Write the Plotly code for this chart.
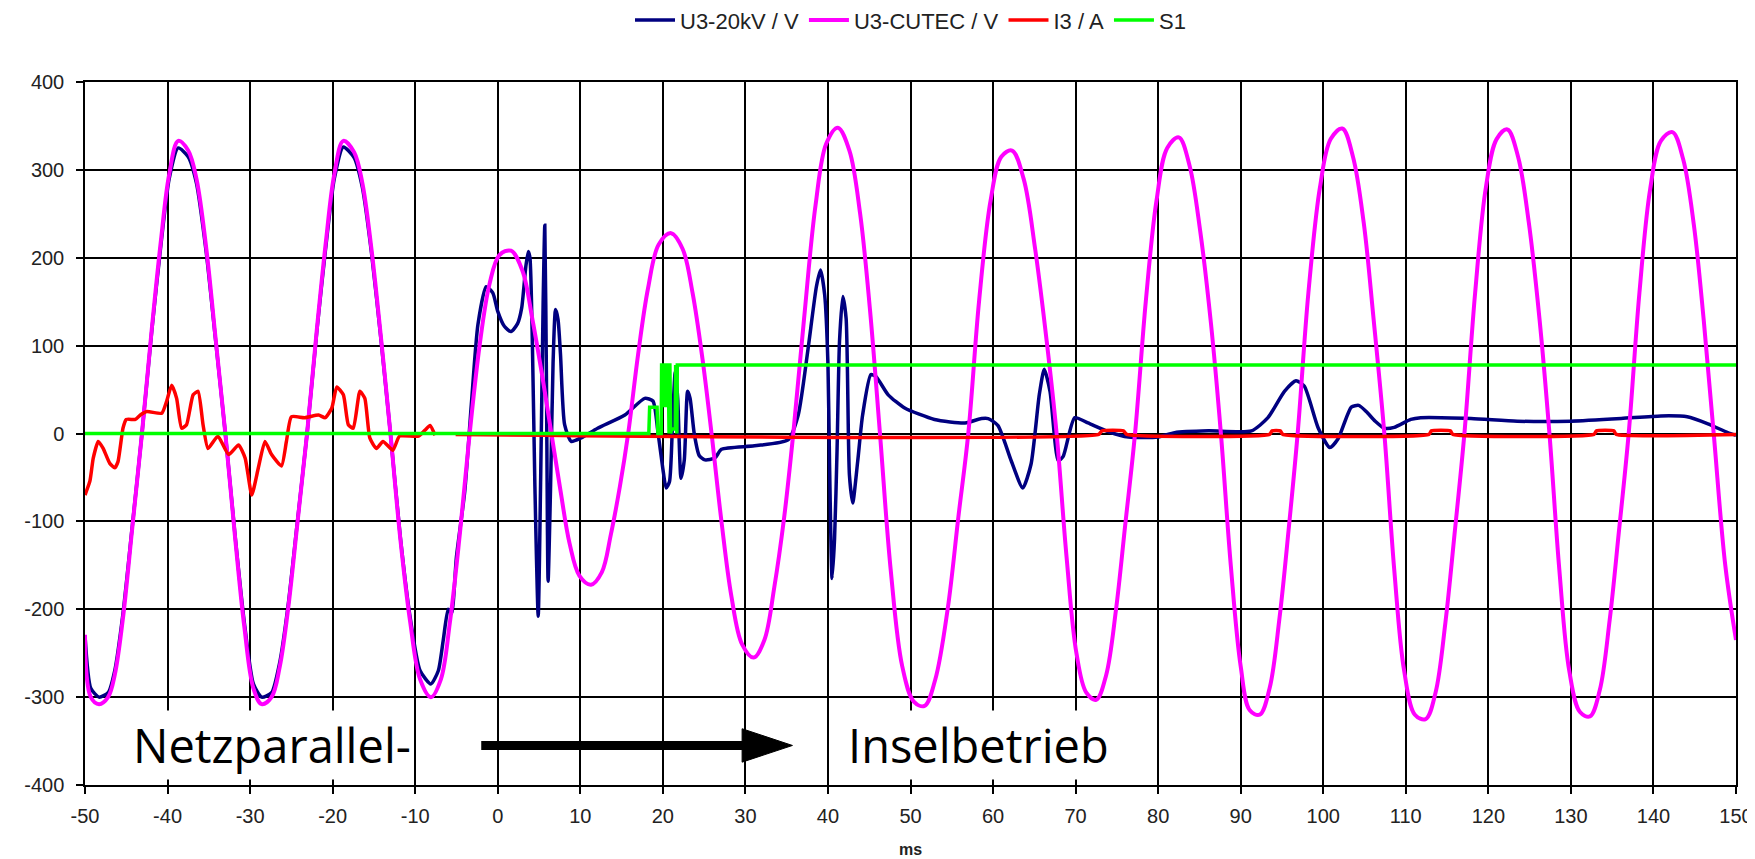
import plotly.graph_objects as go

# ---------------- data ----------------
cutec_t = [-50, -49.3, -48.3, -47.2, -46.4, -45.4, -44.3, -43.1, -41.9, -40.8, -39.8, -38.7, -37.5, -36.5,
           -35.3, -34.2, -33.0, -31.8, -30.7, -29.6, -28.6, -27.4, -26.4, -25.4, -24.3, -23.1, -21.9, -20.8,
           -19.8, -18.7, -17.4, -16.4, -15.3, -14.1, -13.0, -11.8, -10.6, -9.4, -8.1, -6.9, -5.8, -4.6, -3.4,
           -2.2, -1.0, 0.2, 1.6, 3.0, 4.2, 5.4, 6.5, 7.6, 8.7, 9.9, 11.3, 12.6, 13.7, 14.8, 15.8, 17.0, 18.2,
           19.5, 21.0, 22.4, 23.6, 24.8, 25.9, 27.1, 28.3, 29.6, 31.0, 32.3, 33.5, 34.7, 35.8, 37.1, 38.5,
           39.8, 41.2, 42.6, 43.9, 45.1, 46.3, 47.6, 49.0, 50.4, 51.7, 53.0, 54.5, 55.8, 57.0, 58.3, 59.7,
           61.0, 62.3, 63.7, 65.1, 66.5, 67.7, 68.9, 70.1, 71.3, 72.5, 73.7, 74.9, 76.0, 77.2, 78.5, 79.8,
           81.1, 82.5, 83.8, 85.1, 86.4, 87.6, 88.8, 90.0, 91.1, 92.3, 93.5, 94.7, 95.8, 96.9, 98.2, 99.6,
           100.9, 102.3, 103.6, 104.9, 106.1, 107.4, 108.6, 109.8, 111.1, 112.4, 113.6, 114.8, 115.9, 117.1,
           118.4, 119.7, 121.0, 122.3, 123.6, 124.9, 126.2, 127.4, 128.6, 129.8, 131.1, 132.3, 133.5, 134.7,
           135.8, 137.0, 138.3, 139.6, 140.9, 142.3, 143.6, 144.9, 146.1, 147.3, 148.7, 150.0]
cutec_v = [-229, -300, -308, -300, -275, -210, -110, 0, 120, 220, 295, 333, 322, 290,
           210, 110, 0, -120, -220, -290, -308, -300, -265, -200, -105, 0, 120, 220,
           295, 333, 320, 285, 210, 105, 0, -120, -215, -280, -300, -280, -215, -115, 0,
           100, 170, 203, 208, 185, 130, 65, 0, -65, -125, -162, -172, -158, -115, -60, 0, 90, 165,
           215, 228, 210, 160, 85, 0, -100, -185, -240, -255, -235, -175, -95, 0, 130, 260,
           330, 348, 322, 250, 140, 0, -155, -265, -305, -310, -280, -200, -95, 0, 150, 265,
           315, 322, 290, 210, 105, 0, -140, -250, -295, -303, -275, -200, -105, 0, 150, 265,
           325, 337, 305, 230, 125, 0, -150, -265, -315, -320, -290, -210, -110, 0, 160, 280,
           335, 347, 315, 240, 130, 0, -155, -270, -320, -325, -295, -215, -115, 0,
           160, 280, 335, 346, 315, 240, 130, 0, -155, -270, -317, -322, -292, -212,
           -113, 0, 160, 278, 333, 343, 312, 237, 128, 0, -150, -235]

kv_t = [-50, -49.3, -48.3, -47.2, -46.4, -45.4, -44.3, -43.1, -41.9, -40.8, -39.8, -38.7, -37.5, -36.5,
        -35.3, -34.2, -33.0, -31.8, -30.7, -29.6, -28.6, -27.4, -26.4, -25.4, -24.3, -23.1, -21.9, -20.8,
        -19.8, -18.7, -17.4, -16.4, -15.3, -14.1, -13.0, -11.8, -10.6, -9.4, -8.1, -7.2, -6.6, -6.0, -5.6,
        -5.0, -4.0, -3.2, -2.4, -1.4, -0.6, 0.0, 0.8, 1.6, 2.4, 2.9, 3.4, 3.7, 3.9, 4.2, 4.5, 4.9, 5.2,
        5.5, 5.7, 5.9, 6.1, 6.4, 6.7, 7.0, 7.3, 7.6, 8.1, 8.9, 10.1, 12.1, 15.4, 17.8, 18.8, 19.4, 20.0,
        20.4, 20.8, 21.2, 21.5, 21.8, 22.2, 22.6, 23.0, 23.3, 23.8, 24.4, 25.1, 26.3, 27.1, 31.1, 35.2,
        36.4, 37.6, 38.6, 39.1, 39.6, 40.0, 40.2, 40.5, 40.8, 41.1, 41.4, 41.8, 42.2, 42.6, 43.0, 43.6,
        44.2, 45.2, 45.8, 47.3, 49.3, 52.9, 56.6, 58.6, 59.4, 60.6, 62.2, 63.6, 64.6, 65.6, 66.2, 66.9,
        67.9, 68.5, 69.9, 71.5, 74.0, 76.4, 80.0, 82.0, 86.1, 91.3, 93.3, 95.3, 96.7, 97.7, 99.4, 100.8,
        101.8, 103.4, 104.3, 105.2, 106.3, 107.4, 108.6, 110.6, 111.8, 117.9, 123.5, 130.0, 136.1, 140.9,
        144.1, 146.6, 149.0, 150.0]
kv_v = [-230, -290, -300, -295, -270, -205, -108, 0, 118, 215, 290, 325, 315, 285,
        205, 108, 0, -118, -215, -285, -300, -295, -260, -196, -103, 0, 118, 215,
        290, 326, 314, 280, 206, 103, 0, -118, -210, -270, -285, -270, -235, -200, -205,
        -140, -66, 33, 124, 167, 160, 139, 122, 116, 125, 143, 190, 207, 200, 100, -60, -208, -50,
        150, 237, 60, -168, -60, 80, 141, 130, 90, 10, -9, -5, 6, 21, 40, 37, 2, -40,
        -62, -55, 20, 70, 40, -51, -30, 48, 40, 0, -25, -30, -28, -18, -14, -7,
        21, 97, 167, 186, 158, 79, -38, -165, -120, -20, 105, 156, 131, -47, -79, -32,
        21, 67, 65, 44, 29, 16, 12, 17, 17, 9, -31, -62, -35, 44, 73, 48,
        -31, -26, 18, 12, 2, -4, -4, 1, 3, 3, 18, 48, 60, 54, 6, -16,
        -6, 30, 32, 25, 14, 6, 7, 16, 18, 17, 14, 14, 17, 20,
        19, 11, 1, -2]

i3_t = [-50, -49.4, -49.0, -48.4, -47.8, -47.0, -46.4, -46.0, -45.4, -45.0, -43.9, -43.3, -42.5, -40.7,
        -40.1, -39.5, -38.9, -38.3, -37.7, -36.9, -36.3, -35.7, -35.1, -33.9, -32.6, -31.4, -30.6, -29.8,
        -29.0, -28.2, -27.4, -26.2, -25.6, -25.0, -23.4, -21.7, -20.9, -20.1, -19.5, -18.7, -18.1, -17.5,
        -16.7, -16.1, -15.5, -14.7, -13.9, -12.7, -11.9, -9.6, -8.8, -8.2, -7.6, None,
        -5.1, 72.8, 73.2, 75.8, 76.2, 93.5, 93.8, 94.8, 95.1, 112.8, 113.1, 115.4, 115.7,
        132.8, 133.1, 135.2, 135.5, 150]
i3_v = [-70, -54, -28, -9, -17, -34, -39, -32, 6, 16, 16, 21, 25, 23,
        37, 55, 40, 6, 10, 44, 48, 10, -17, -3, -24, -13, -28, -70,
        -39, -9, -24, -37, -9, 19, 18, 21, 18, 29, 53, 44, 10, 6,
        48, 40, -5, -17, -9, -19, -3, -3, 4, 9, -2, None,
        -1, -1, 3, 3, -1, -1, 3, 3, -1, -1, 3, 3, -1,
        -1, 3, 3, -1, -1]

s1_t = [-50, 18.3, 18.4, 19.3, 19.4, 19.8, 19.85, 19.95, 20.05, 20.15, 20.25, 20.35, 20.45, 20.55,
        20.65, 20.75, 20.85, 20.95, 21.05, 21.5, 21.55, 21.6, 21.7, 21.75, 150]
s1_v = [0, 0, 30, 30, 0, 0, 80, 30, 80, 30, 80, 30, 80, 30,
        80, 0, 80, 0, 5, 5, 78, 0, 0, 78, 78]

x_ticks = list(range(-50, 151, 10))
y_ticks = list(range(-400, 401, 100))

# annotation text / arrow (decoration, in data units)
label_left = "Netzparallel-"
label_right = "Inselbetrieb"
label_y = -355
arrow_from, arrow_to = -2.0, 35.7

# ---------------- figure ----------------
fig = go.Figure()
fig.add_trace(go.Scatter(x=kv_t, y=kv_v, mode="lines", name="U3-20kV / V",
                         line=dict(color="#000080", width=3.5, shape="spline", smoothing=0.6)))
fig.add_trace(go.Scatter(x=cutec_t, y=cutec_v, mode="lines", name="U3-CUTEC / V",
                         line=dict(color="#FF00FF", width=4, shape="spline", smoothing=1.0)))
fig.add_trace(go.Scatter(x=i3_t, y=i3_v, mode="lines", name="I3 / A",
                         line=dict(color="#FF0000", width=3.5, shape="spline", smoothing=0.5),
                         connectgaps=False))
fig.add_trace(go.Scatter(x=s1_t, y=s1_v, mode="lines", name="S1",
                         line=dict(color="#00FF00", width=3.5)))

axis_common = dict(showgrid=True, gridcolor="black", gridwidth=1.5, showline=True, linecolor="black",
                   linewidth=1.5, mirror=True, ticks="outside", ticklen=7, tickcolor="black",
                   tickwidth=1.5, zeroline=False,
                   tickfont=dict(family="Liberation Sans, Arial, sans-serif", size=20, color="#222"))

fig.update_layout(
    width=1755, height=859,
    margin=dict(l=77, r=27, t=74, b=82, autoexpand=False),
    paper_bgcolor="white", plot_bgcolor="white",
    showlegend=True,
    legend=dict(orientation="h", x=0.5, xanchor="center", y=1.088, yanchor="middle",
                font=dict(family="Liberation Sans, Arial, sans-serif", size=22, color="#222"),
                bgcolor="rgba(0,0,0,0)", itemwidth=40, tracegroupgap=0),
    xaxis=dict(range=[-50, 150], tickvals=x_ticks, ticktext=[str(v) for v in x_ticks],
               title=dict(text="<b>ms</b>", font=dict(family="Liberation Sans, Arial, sans-serif",
                                                      size=16, color="#222"), standoff=18),
               ticklabelstandoff=5, **axis_common),
    yaxis=dict(range=[-400, 400], tickvals=y_ticks, ticktext=[str(v) for v in y_ticks],
               ticklabelstandoff=8, **axis_common),
)

text_font = dict(family="Open Sans, Noto Sans, sans-serif", size=47, color="black")
fig.add_annotation(x=-27.4, y=label_y, xref="x", yref="y", text=label_left, showarrow=False,
                   font=text_font, bgcolor="white", borderpad=2)
fig.add_annotation(x=58.2, y=label_y, xref="x", yref="y", text=label_right, showarrow=False,
                   font=text_font, bgcolor="white", borderpad=2)
# arrow: thick shaft plus a long triangular head
head_len, head_half = 6.1, 19
fig.add_shape(type="line", xref="x", yref="y", x0=arrow_from, x1=arrow_to - head_len + 0.3,
              y0=label_y, y1=label_y, line=dict(color="black", width=9))
fig.add_shape(type="path", xref="x", yref="y",
              path=(f"M {arrow_to - head_len} {label_y + head_half} L {arrow_to} {label_y} "
                    f"L {arrow_to - head_len} {label_y - head_half} Z"),
              fillcolor="black", line=dict(color="black", width=1))

fig.write_html("out.html")
